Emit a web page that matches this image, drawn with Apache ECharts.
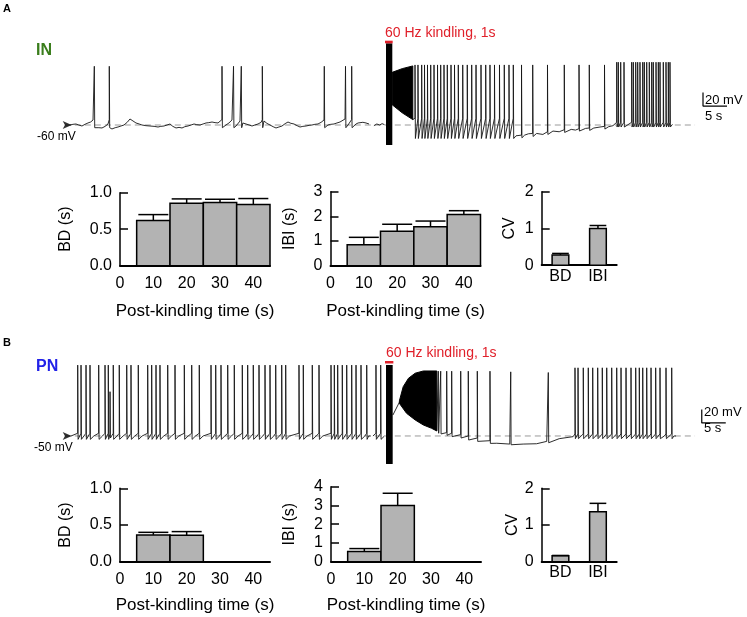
<!DOCTYPE html>
<html><head><meta charset="utf-8">
<script src="https://cdn.jsdelivr.net/npm/echarts@6/dist/echarts.min.js"></script>
<style>html,body{margin:0;padding:0;background:#fff}#c{width:747px;height:617px}</style>
</head><body><div id="c"></div>
<script>
// ================= DATA =================
// Bar charts
const timeBins = [10, 20, 30, 40];
const xTicks = [0, 10, 20, 30, 40];
const A_BD = [0.62, 0.855, 0.865, 0.84];
const A_BD_err = [0.70, 0.915, 0.91, 0.92];
const A_IBI = [0.85, 1.40, 1.58, 2.08];
const A_IBI_err = [1.15, 1.68, 1.81, 2.23];
const cvCats = ['BD', 'IBI'];
const A_CV = [0.28, 1.0];
const A_CV_err = [0.32, 1.08];
const B_bins = [10, 20];
const B_BD = [0.365, 0.36];
const B_BD_err = [0.40, 0.41];
const B_IBI = [0.55, 3.0];
const B_IBI_err = [0.70, 3.65];
const B_CV = [0.16, 1.36];
const B_CV_err = [0.17, 1.59];

// Trace A (IN), time in s, voltage in mV
const A_preBase = [[2.08,-60],[2.7,-59],[3.33,-58.5],[3.9,-60],[4.58,-61.5],[5.2,-59],[5.83,-57],[6.4,-55.5],[6.88,-52.6],[7.5,-65.9],[8.1,-64],[8.75,-64.4],[9.4,-62],[10.0,-58.5],[10.83,-65.9],[11.5,-64],[12.08,-63],[12.7,-61.5],[13.33,-60],[14.0,-56],[14.58,-51.1],[15.2,-54],[15.83,-57],[16.5,-58.5],[17.08,-60],[17.9,-61],[18.75,-61.5],[19.6,-62],[20.42,-63],[21.0,-62],[21.67,-61.5],[22.3,-60],[22.92,-58.5],[23.5,-62],[24.17,-64.4],[24.8,-63.5],[25.42,-64.4],[26.0,-62.5],[26.67,-61.5],[27.3,-60],[27.92,-58.5],[28.5,-59.5],[29.17,-60],[29.8,-58.5],[30.42,-57],[31.0,-56.5],[31.67,-55.6],[32.3,-56.5],[32.92,-57],[33.75,-49.6],[34.58,-60],[35.2,-57],[35.83,-52.6],[36.67,-61.5],[37.5,-54.1],[38.1,-57],[38.75,-58.5],[39.4,-60],[40.0,-61.5],[40.6,-60],[41.25,-58.5],[41.9,-56],[42.5,-54.1],[43.1,-57.5],[43.75,-60],[44.4,-62.5],[45.0,-64.4],[45.6,-63],[46.25,-61.5],[46.9,-58],[47.5,-55.6],[48.1,-57.5],[48.75,-58.5],[49.4,-61],[50.0,-63],[50.6,-62],[51.25,-61.5],[51.9,-60.5],[52.5,-60],[53.1,-59],[53.75,-58.5],[54.4,-56],[55.0,-52.6],[55.83,-60],[56.4,-59],[57.08,-58.5],[57.7,-57],[58.33,-55.6],[59.38,-51.1],[60.0,-60],[60.83,-52.6],[61.67,-58.5],[62.1,-57],[62.5,-55.6],[63.1,-56],[63.75,-57],[64.38,-58.5]];
const A_preT = [7.15, 10.27, 33.75, 36.15, 37.77, 42.15, 55.06, 59.48, 60.77];
const A_prePeak = 27, A_preFoot = -52, A_preTrough = -64;
const A_gapBase = [[65.4,-61],[66.0,-58.5],[66.6,-60],[67.1,-58],[67.6,-59.5]];
const A_kindle = [67.92, 69.23, -89.6, 61.0];      // t0, t1, vBottom, vTop
const A_kindleMark = [67.71, 69.31, 61.0, 64.9];
const A_envTop = [[69.2,18],[71.3,23.5],[73.5,27.5]];
const A_envBot = [[69.2,-30],[71.3,-42],[73.5,-52]];
const A_denseT = [73.96,74.58,75.35,75.94,76.56,77.23,77.92,78.65,79.31,80.0,80.69,81.46,82.19,82.98,83.9,84.85,85.77,86.67,87.71,88.69,89.58,90.52,91.56,92.56,93.54,94.44];
const A_densePeak = 29, A_denseFoot = -50, A_denseTrough = -80;
const A_sparseT = [96.15, 98.48, 101.56, 105.06, 108.13, 110.27, 113.44];
const A_sparseFoot = [-75, -72.5, -70, -67, -65.5, -64.5, -62];
const A_sparseTrough = [-79, -77, -74, -71, -69, -68, -66];
const A_sparsePeak = 29;
const A_lateT = [115.98,116.31,116.81,117.5,119.1,119.44,119.94,120.35,120.83,121.4,121.73,122.23,122.77,123.27,123.6,124.17,124.65,125.0,125.69,126.25,126.73,127.08];
const A_latePeak = 33, A_lateFoot = -56, A_lateTrough = -63;
const A_postBase = [[73.5,-52],[95.0,-76],[96.8,-75],[97.6,-73],[99.3,-72.5],[100.6,-74],[102.7,-69],[104.0,-70],[106.5,-66.5],[107.4,-67.5],[109.5,-65],[111.2,-64.5],[112.5,-63],[114.3,-62.5],[115.2,-61],[127.6,-59]];
const A_rest = -60;
const A_scale = [133.96, -31.9];

// Trace B (PN)
const B_preT = [3.69,4.38,5.42,6.25,8.06,9.38,10.06,11.10,12.35,13.90,14.79,16.31,18.27,19.10,20.0,20.83,22.44,23.96,25.90,27.44,29.02,31.46,32.44,33.54,34.94,36.31,37.98,39.10,40.27,41.46,42.71,43.75,44.94,46.19,47.02,49.79,50.69,52.56,53.96,56.46,57.15,57.85,58.81,59.73,60.77,61.67,62.71,63.90];
const B_preSmallT = [10.42];
const B_preSmallPeak = 15.6;
const B_prePeak = 55, B_preFoot = -46, B_preTrough = -55, B_preRest = -50;
const B_preBase = [[2.3,-50],[64.3,-50]];
const B_pre2T = [65.83, 66.81];
const B_pre2Base = [[65.2,-50],[67.6,-50]];
const B_kindle = [67.92, 69.31, -91.5, 55.2];
const B_kindleMark = [67.71, 69.45, 57.4, 61.1];
const B_envTop = [[70.7,2],[71.5,23],[72.6,35.5],[74.0,43],[75.7,46.3],[78.5,46.3]];
const B_envBot = [[70.7,-1.6],[72.2,-16.4],[74.0,-26.3],[75.7,-33.7],[77.4,-38.6],[78.5,-42.6]];
const B_postStart = [[69.35,-19],[70.7,0],[78.5,-42]];
const B_postT = [78.81, 79.31, 80.56, 81.6, 83.48, 85.06, 86.94, 89.58, 93.9, 101.73];
const B_postPeak = [46, 46, 46, 46, 46, 46, 46, 46, 45, 44];
const B_postFoot = [-42, -44, -45, -46, -48, -50, -53, -57, -61, -58];
const B_postTrough = [-46, -47, -49, -51, -53, -56, -58, -61, -63, -60];
const B_hypBase = [[91.0,-60.8],[93.7,-62],[96.5,-62],[99.3,-61.5],[101.4,-58],[104,-54],[106.9,-51]];
const B_lateT = [107.29,107.92,109.02,110.06,110.98,112.02,112.98,113.9,114.94,115.98,116.88,117.92,118.96,119.94,120.69,121.4,122.23,123.13,124.1,125.0,126.25,127.44];
const B_latePeak = 51, B_lateFoot = -47, B_lateTrough = -54, B_lateRest = -50;
const B_lateEnd = [[127.9,-50]];
const B_rest = -50;
const B_scale = [133.7, -30.7];

// ================= BUILD =================
const FF = '"Liberation Sans", Arial, Helvetica, sans-serif';
const val = (p, i) => Array.isArray(p) ? p[i] : p;
function spikeTrain(times, peak, foot, trough, rest, restLag) {
  const pts = [];
  times.forEach((t, i) => {
    const f = val(foot, i), tr = val(trough, i);
    if (f != null) pts.push([t - 0.01, f]);
    pts.push([t, val(peak, i)]);
    if (tr != null) pts.push([t + 0.08, tr]);
    const next = times[i + 1];
    if (rest != null && (next === undefined || next - t > restLag + 0.3)) pts.push([t + restLag, rest]);
  });
  return pts;
}
function merge() { return [].concat(...arguments).sort((a, b) => a[0] - b[0]); }

const A_pre = merge(A_preBase, spikeTrain(A_preT, A_prePeak, A_preFoot, A_preTrough, null, 0));
const A_post = merge(A_postBase,
  spikeTrain(A_denseT, A_densePeak, A_denseFoot, A_denseTrough, null, 0),
  spikeTrain(A_sparseT, A_sparsePeak, A_sparseFoot, A_sparseTrough, null, 0),
  spikeTrain(A_lateT, A_latePeak, A_lateFoot, A_lateTrough, null, 0));
const B_pre = merge(B_preBase,
  spikeTrain(B_preT, B_prePeak, B_preFoot, B_preTrough, B_preRest, 0.8),
  spikeTrain(B_preSmallT, B_preSmallPeak, -47, -53, null, 0));
const B_pre2 = merge(B_pre2Base, spikeTrain(B_pre2T, B_prePeak, B_preFoot, B_preTrough, null, 0));
const B_post = merge(B_postStart, B_hypBase, B_lateEnd,
  spikeTrain(B_postT, B_postPeak, B_postFoot, B_postTrough, null, 0),
  spikeTrain(B_lateT, B_latePeak, B_lateFoot, B_lateTrough, B_lateRest, 0.9));

function traceLine(gi, data, width) {
  return {type: 'line', xAxisIndex: gi, yAxisIndex: gi, data, showSymbol: false, symbol: 'none',
    lineStyle: {color: '#151515', width: width || 0.9, join: 'miter'}, z: 3, silent: true};
}
function rectSeries(gi, r, color) {
  return {type: 'custom', xAxisIndex: gi, yAxisIndex: gi, data: [r], z: 6, silent: true,
    renderItem: (p, api) => {
      const p0 = api.coord([api.value(0), api.value(3)]);
      const p1 = api.coord([api.value(1), api.value(2)]);
      return {type: 'rect', shape: {x: p0[0], y: p0[1], width: p1[0] - p0[0], height: p1[1] - p0[1]}, style: {fill: color}};
    }};
}
function polySeries(gi, top, bot) {
  const pts = top.concat(bot.slice().reverse());
  return {type: 'custom', xAxisIndex: gi, yAxisIndex: gi, data: [[pts[0][0], pts[0][1]]], z: 4, silent: true,
    renderItem: (p, api) => ({type: 'polygon', shape: {points: pts.map(q => api.coord(q))},
      style: {fill: '#000', stroke: '#000', lineWidth: 1}})};
}
function scaleSeries(gi, s) {
  return {type: 'line', xAxisIndex: gi, yAxisIndex: gi, showSymbol: false, symbol: 'none',
    data: [[s[0], s[1] + 20], [s[0], s[1]], [s[0] + 5, s[1]]], lineStyle: {color: '#000', width: 1.2}, silent: true};
}
function dashSeries(gi, v) {
  return {type: 'line', xAxisIndex: gi, yAxisIndex: gi, showSymbol: false, symbol: 'none',
    data: [[1, v], [132.3, v]], lineStyle: {color: '#9a9a9a', width: 1, type: [6, 4]}, z: 1, silent: true};
}
function arrowSeries(gi, v) {
  return {type: 'scatter', xAxisIndex: gi, yAxisIndex: gi, data: [[1.5, v]],
    symbol: 'path://M0,0 L10,5 L0,10 L2.5,5 Z', symbolSize: [9, 8], itemStyle: {color: '#000'}, z: 5, silent: true};
}
function barSeries(gi, xs, vals, errs, unit, wFrac, capFrac) {
  return {type: 'custom', xAxisIndex: gi, yAxisIndex: gi, silent: true, z: 3,
    data: xs.map((x, i) => [x, vals[i], errs[i]]),
    renderItem: (p, api) => {
      const x = api.value(0), y = api.value(1), e = api.value(2);
      const top = api.coord([x, y]), base = api.coord([x, 0]), et = api.coord([x, e]);
      const u = api.size([unit, 0])[0];
      const w = u * wFrac, cw = u * capFrac;
      return {type: 'group', children: [
        {type: 'rect', shape: {x: top[0] - w / 2, y: top[1], width: w, height: base[1] - top[1]},
          style: {fill: '#b3b3b3', stroke: '#000', lineWidth: 1.5}},
        {type: 'line', shape: {x1: top[0], y1: top[1], x2: et[0], y2: et[1]}, style: {stroke: '#000', lineWidth: 1.5}},
        {type: 'line', shape: {x1: et[0] - cw / 2, y1: et[1], x2: et[0] + cw / 2, y2: et[1]}, style: {stroke: '#000', lineWidth: 1.5}}
      ]};
    }};
}

const txt = {color: '#000', fontSize: 16, fontFamily: FF};
function valX(gi, gap) {
  return {gridIndex: gi, type: 'value', min: 0, max: 45, interval: 10,
    axisLine: {show: true, onZero: false, lineStyle: {color: '#000', width: 2}},
    axisTick: {show: false}, splitLine: {show: false},
    axisLabel: Object.assign({margin: 10, formatter: v => xTicks.includes(v) ? String(v) : ''}, txt),
    name: 'Post-kindling time (s)', nameLocation: 'middle', nameGap: gap,
    nameTextStyle: {color: '#000', fontSize: 17, fontFamily: FF}};
}
function catX(gi) {
  return {gridIndex: gi, type: 'category', data: cvCats, boundaryGap: true,
    axisLine: {show: true, onZero: false, lineStyle: {color: '#000', width: 2}},
    axisTick: {show: false}, splitLine: {show: false},
    axisLabel: Object.assign({margin: 3}, txt)};
}
function valY(gi, max, interval, name, gap, dec) {
  return {gridIndex: gi, type: 'value', min: 0, max, interval,
    axisLine: {show: true, onZero: false, lineStyle: {color: '#000', width: 1.5}},
    axisTick: {show: true, inside: true, length: 8, lineStyle: {color: '#000', width: 1.5}},
    splitLine: {show: false},
    axisLabel: Object.assign({margin: 8, formatter: v => v.toFixed(dec)}, txt),
    name, nameLocation: 'middle', nameGap: gap, nameRotate: 90,
    nameTextStyle: {color: '#000', fontSize: 16, fontFamily: FF}};
}
const hidX = gi => ({gridIndex: gi, type: 'value', min: 0, max: 140, show: false});
const hidY = (gi, mn, mx) => ({gridIndex: gi, type: 'value', min: mn, max: mx, show: false});

function T(text, x, y, font, fill) {
  return {type: 'text', x, y, silent: true,
    style: {text, font, fill: fill || '#000', verticalAlign: 'middle', align: 'left'}};
}
const f12 = '12px ' + FF, f13 = '13px ' + FF, f14 = '14px ' + FF;

const option = {
  animation: false,
  textStyle: {fontFamily: FF},
  grid: [
    {left: 60, top: 35.9, width: 672, height: 116.1, outerBoundsMode: 'none'},
    {left: 60, top: 351.6, width: 672, height: 114.75, outerBoundsMode: 'none'},
    {left: 120, top: 192.7, width: 150, height: 73, outerBoundsMode: 'none'},
    {left: 330.5, top: 191.7, width: 150, height: 74, outerBoundsMode: 'none'},
    {left: 541.7, top: 191.7, width: 75, height: 73.5, outerBoundsMode: 'none'},
    {left: 120, top: 488.3, width: 150, height: 73.4, outerBoundsMode: 'none'},
    {left: 331, top: 486.7, width: 150, height: 75, outerBoundsMode: 'none'},
    {left: 541.7, top: 488.3, width: 75, height: 73.4, outerBoundsMode: 'none'}
  ],
  xAxis: [hidX(0), hidX(1), valX(2, 37), valX(3, 37), catX(4), valX(5, 35), valX(6, 35), catX(7)],
  yAxis: [hidY(0, -100, 72), hidY(1, -95, 75),
    valY(2, 1, 0.5, 'BD (s)', 46, 1), valY(3, 3, 1, 'IBI (s)', 33, 0), valY(4, 2, 1, 'CV', 24, 0),
    valY(5, 1, 0.5, 'BD (s)', 46, 1), valY(6, 4, 1, 'IBI (s)', 33, 0), valY(7, 2, 1, 'CV', 21, 0)],
  series: [
    dashSeries(0, A_rest),
    traceLine(0, A_pre), traceLine(0, A_gapBase), traceLine(0, A_post),
    polySeries(0, A_envTop, A_envBot),
    rectSeries(0, A_kindle, '#000'), rectSeries(0, A_kindleMark, '#e0202a'),
    scaleSeries(0, A_scale), arrowSeries(0, A_rest),
    dashSeries(1, B_rest),
    traceLine(1, B_pre), traceLine(1, B_pre2), traceLine(1, B_post),
    polySeries(1, B_envTop, B_envBot),
    rectSeries(1, B_kindle, '#000'), rectSeries(1, B_kindleMark, '#e0202a'),
    scaleSeries(1, B_scale), arrowSeries(1, B_rest),
    barSeries(2, timeBins, A_BD, A_BD_err, 10, 1.0, 0.9),
    barSeries(3, timeBins, A_IBI, A_IBI_err, 10, 1.0, 0.9),
    barSeries(4, [0, 1], A_CV, A_CV_err, 1, 0.445, 0.445),
    barSeries(5, B_bins, B_BD, B_BD_err, 10, 1.0, 0.9),
    barSeries(6, B_bins, B_IBI, B_IBI_err, 10, 1.0, 0.9),
    barSeries(7, [0, 1], B_CV, B_CV_err, 1, 0.445, 0.445)
  ],
  graphic: [
    T('A', 3, 8.5, 'bold 11px ' + FF),
    T('IN', 36, 51, 'bold 16px ' + FF, '#3a7d1c'),
    T('-60 mV', 37, 137, f12),
    T('60 Hz kindling, 1s', 385, 32.8, f14, '#e0202a'),
    T('20 mV', 705, 100, f13),
    T('5 s', 705, 116, f13),
    T('B', 3, 343, 'bold 11px ' + FF),
    T('PN', 36, 367, 'bold 16px ' + FF, '#2222e8'),
    T('-50 mV', 34, 448, f12),
    T('60 Hz kindling, 1s', 386, 353.3, f14, '#e0202a'),
    T('20 mV', 704, 412.5, f13),
    T('5 s', 704, 428, f13)
  ]
};
const chart = echarts.init(document.getElementById('c'), null, {renderer: 'canvas'});
chart.setOption(option);
</script>
</body></html>
